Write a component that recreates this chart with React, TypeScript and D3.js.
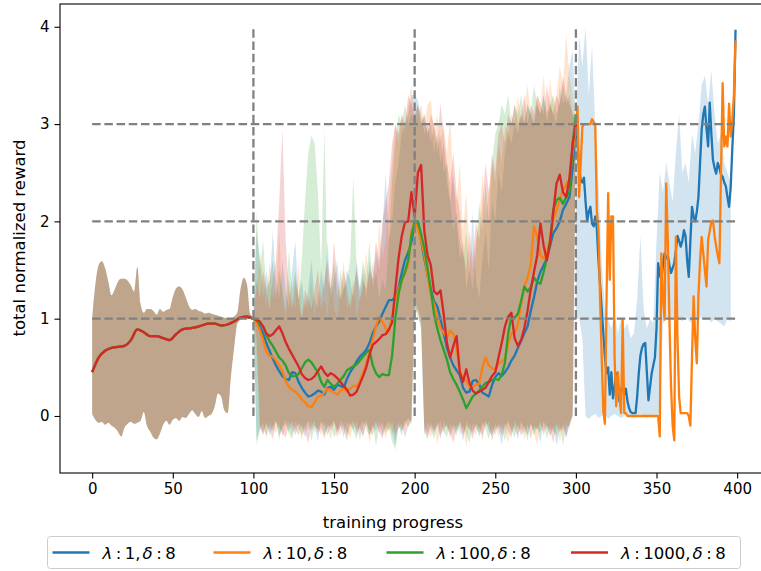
import React, { useEffect, useRef } from 'react';
import * as d3 from 'd3';

// x grids of the three training phases
const warmLineX = d3.range(0, 101, 4);
const warmBandX = d3.range(0, 101, 2);
const midX = d3.range(100, 301, 2);
const lateX = d3.range(300, 400, 1);
const lateBandX = d3.range(300, 397, 2);

const xTicks = [0, 50, 100, 150, 200, 250, 300, 350, 400];
const yTicks = [0, 1, 2, 3, 4];
const stageX = [100, 200, 300];
const levelY = [1, 2, 3];

const lambdas = ['1', '10', '100', '1000'];
const colors = ['#1f77b4', '#ff7f0e', '#2ca02c', '#d62728'];

// phase 0-100, identical for all runs
const warmMean = [0.45, 0.6, 0.67, 0.7, 0.71, 0.72, 0.78, 0.89, 0.86, 0.82, 0.82, 0.8, 0.78,
  0.84, 0.89, 0.9, 0.91, 0.93, 0.95, 0.95, 0.93, 0.94, 0.97, 1.01, 1.02, 1.0];
const warmHi = [1.0, 1.35, 1.55, 1.59, 1.52, 1.38, 1.24, 1.3, 1.38, 1.41,
  1.41, 1.39, 1.34, 1.28, 1.53, 1.15, 1.06, 1.1, 1.1, 1.08,
  1.04, 1.1, 1.07, 1.09, 1.1, 1.22, 1.31, 1.33, 1.3, 1.22,
  1.13, 1.09, 1.1, 1.08, 1.07, 1.05, 1.06, 1.05, 1.04, 1.03,
  1.02, 1.01, 1.0, 1.0, 1.02, 1.06, 1.3, 1.42, 1.35, 1.05, 1.01];
const warmLo = [0.02, -0.04, -0.07, -0.06, -0.09, -0.07, -0.1, -0.12, -0.16, -0.21,
  -0.12, -0.08, -0.06, -0.08, -0.07, -0.05, 0.04, -0.1, -0.16, -0.22,
  -0.24, -0.18, -0.09, -0.05, -0.09, -0.04, -0.02, -0.05, -0.01, -0.02,
  0.02, 0.06, 0.02, -0.01, 0.05, -0.02, 0.0, 0.02, 0.1, 0.23,
  0.2, 0.06, 0.03, 0.4, 0.7, 0.95, 0.99, 1.0, 1.0, 1.0, 1.0];

// phase 100-300, means
const blueMid = [1.0, 0.97, 0.92, 0.85, 0.75, 0.67, 0.59, 0.52, 0.46, 0.41,
  0.38, 0.37, 0.45, 0.44, 0.35, 0.29, 0.24, 0.2, 0.21, 0.23,
  0.26, 0.25, 0.22, 0.29, 0.3, 0.27, 0.32, 0.31, 0.29, 0.38,
  0.45, 0.5, 0.56, 0.61, 0.64, 0.68, 0.75, 0.85, 0.92, 0.97,
  1.05, 1.12, 1.19, 1.19, 1.22, 1.32, 1.47, 1.6, 1.68, 1.79,
  1.97, 2.0, 1.8, 1.62, 1.45, 1.3, 1.18, 1.13, 1.0, 0.85,
  0.7, 0.6, 0.52, 0.47, 0.42, 0.29, 0.24, 0.25, 0.36, 0.37,
  0.33, 0.24, 0.22, 0.2, 0.32, 0.4, 0.44, 0.41, 0.45, 0.5,
  0.57, 0.62, 0.7, 0.77, 0.85, 0.92, 1.08, 1.22, 1.38, 1.48,
  1.55, 1.62, 1.75, 1.88, 1.93, 2.0, 2.12, 2.18, 2.25, 2.55,
  2.95];
const orangeMid = [1.0, 0.95, 0.88, 0.78, 0.66, 0.62, 0.61, 0.57, 0.52, 0.46,
  0.36, 0.3, 0.27, 0.25, 0.22, 0.17, 0.14, 0.1, 0.09, 0.14,
  0.2, 0.21, 0.24, 0.28, 0.26, 0.24, 0.22, 0.26, 0.28, 0.25,
  0.28, 0.31, 0.3, 0.36, 0.44, 0.54, 0.66, 0.78, 0.92, 1.02,
  0.97, 0.9, 0.86, 1.02, 1.18, 1.3, 1.39, 1.47, 1.55, 1.9,
  2.0, 1.92, 1.8, 1.66, 1.45, 1.25, 1.15, 1.02, 0.9, 0.86,
  0.8, 0.88, 0.84, 0.7, 0.45, 0.41, 0.36, 0.3, 0.3, 0.32,
  0.33, 0.5, 0.6, 0.52, 0.49, 0.48, 0.54, 0.56, 0.58, 0.75,
  0.85, 0.85, 0.94, 1.15, 1.33, 1.42, 1.55, 1.95, 1.85, 1.65,
  1.62, 1.68, 1.82, 2.02, 2.12, 2.22, 2.32, 2.38, 2.43, 2.7,
  2.97];
const greenMid = [1.0, 0.98, 0.95, 0.92, 0.83, 0.77, 0.72, 0.66, 0.6, 0.57,
  0.52, 0.44, 0.41, 0.41, 0.43, 0.49, 0.55, 0.58, 0.55, 0.5,
  0.45, 0.35, 0.3, 0.37, 0.33, 0.3, 0.33, 0.37, 0.41, 0.47,
  0.49, 0.51, 0.53, 0.57, 0.61, 0.65, 0.68, 0.52, 0.44, 0.4,
  0.43, 0.42, 0.42, 0.62, 1.0, 1.25, 1.4, 1.48, 1.6, 1.85,
  2.0, 2.0, 1.87, 1.72, 1.52, 1.3, 1.05, 0.9, 0.78, 0.68,
  0.58, 0.45, 0.38, 0.32, 0.25, 0.17, 0.08, 0.14, 0.2, 0.23,
  0.26, 0.3, 0.34, 0.35, 0.37, 0.38, 0.37, 0.42, 0.55, 0.85,
  1.02, 1.01, 1.05, 1.18, 1.33, 1.28, 1.32, 1.42, 1.38, 1.36,
  1.48, 1.62, 1.8, 2.12, 2.22, 2.24, 2.18, 2.25, 2.3, 2.8,
  3.1];
const redMid = [1.0, 0.99, 0.97, 0.92, 0.85, 0.82, 0.84, 0.88, 0.92, 0.85,
  0.76, 0.69, 0.63, 0.57, 0.51, 0.43, 0.39, 0.37, 0.38, 0.41,
  0.46, 0.51, 0.45, 0.41, 0.44, 0.42, 0.39, 0.35, 0.31, 0.27,
  0.21, 0.22, 0.25, 0.33, 0.41, 0.5, 0.63, 0.73, 0.76, 0.79,
  0.83, 0.84, 0.89, 0.96, 1.3, 1.62, 1.85, 1.99, 2.0, 2.3,
  2.05, 2.5, 2.58, 1.9, 1.65, 1.55, 1.28, 1.25, 1.29, 1.05,
  0.75, 0.6, 0.72, 0.82, 0.45, 0.35, 0.48, 0.34, 0.26, 0.23,
  0.25, 0.27, 0.29, 0.35, 0.41, 0.45, 0.6, 0.75, 0.92, 1.02,
  1.06, 0.8, 0.72, 0.78, 0.9, 1.08, 1.3, 1.48, 1.65, 1.98,
  1.75, 1.6, 1.78, 2.1, 2.39, 2.48, 2.3, 2.25, 2.45, 2.8,
  3.0];

// phase 100-300, band tops
const blueMidHi = [1.0, 1.9, 1.6, 1.2, 1.5, 1.3, 1.9, 1.4, 1.2, 1.6,
  1.3, 1.1, 1.5, 1.8, 1.2, 1.4, 1.1, 1.3, 1.6, 1.2,
  1.1, 1.5, 1.3, 1.8, 1.2, 1.4, 1.6, 1.2, 1.3, 1.5,
  1.4, 1.2, 1.6, 1.3, 1.5, 1.2, 1.6, 1.4, 1.7, 1.5,
  1.9, 2.5, 1.8, 2.0, 2.4, 2.6, 2.9, 3.0, 3.1, 3.3,
  3.3, 3.25, 3.0, 3.1, 2.9, 3.0, 2.7, 2.9, 2.6, 2.8,
  2.4, 2.2, 2.5, 2.0, 1.6, 1.8, 1.3, 1.5, 2.1, 1.4,
  1.2, 1.6, 1.9, 1.5, 2.2, 2.0, 2.5, 2.3, 2.7, 2.9,
  2.8, 3.0, 2.9, 3.1, 3.0, 3.2, 3.1, 3.0, 3.2, 3.1,
  3.3, 3.0, 3.2, 3.1, 3.0, 3.4, 3.2, 3.3, 3.6, 3.76,
  3.0];
const orangeMidHi = [1.0, 1.3, 1.7, 1.4, 1.1, 1.6, 1.2, 1.3, 1.9, 1.2,
  1.0, 1.4, 1.2, 1.1, 1.6, 1.0, 1.2, 1.1, 1.4, 1.0,
  1.3, 1.1, 1.2, 1.0, 1.5, 1.1, 1.0, 1.3, 1.6, 1.1,
  1.2, 1.4, 1.0, 1.2, 1.3, 1.7, 1.3, 1.6, 1.4, 2.0,
  1.6, 1.8, 2.2, 2.6, 3.0, 2.8, 3.1, 2.9, 3.2, 3.4,
  3.0, 3.1, 3.2, 3.0, 3.2, 3.25, 2.9, 3.1, 2.8, 3.0,
  2.7, 3.07, 2.4, 2.2, 2.6, 1.9, 2.3, 1.7, 1.5, 1.8,
  2.0, 2.5, 2.0, 2.3, 2.6, 2.4, 2.8, 2.6, 3.0, 2.9,
  3.1, 3.0, 3.3, 3.0, 3.2, 3.4, 3.1, 3.0, 3.3, 3.2,
  3.5, 3.1, 3.46, 3.2, 3.3, 3.6, 3.4, 3.93, 3.5, 3.3,
  3.0];
const greenMidHi = [1.0, 2.1, 1.5, 1.8, 1.3, 1.4, 1.6, 1.2, 1.5, 1.3,
  1.1, 1.7, 1.3, 1.5, 1.2, 1.6, 2.2, 2.7, 2.88, 2.8,
  2.3, 1.5, 2.94, 1.4, 1.3, 1.6, 1.2, 1.5, 1.3, 1.4,
  1.6, 2.46, 1.5, 1.3, 1.6, 1.4, 1.8, 1.3, 1.5, 1.2,
  1.4, 1.3, 1.8, 2.4, 2.8, 3.1, 3.0, 3.2, 3.0, 3.1,
  3.05, 3.2, 3.1, 2.9, 3.0, 2.8, 3.0, 2.7, 2.9, 2.5,
  2.6, 2.2, 1.9, 2.1, 1.8, 1.6, 1.9, 1.5, 1.3, 1.7,
  2.2, 1.9, 2.4, 2.0, 2.6, 2.9, 3.0, 3.2, 3.1, 3.3,
  3.0, 3.2, 3.1, 3.3, 3.0, 3.2, 3.1, 3.4, 3.2, 3.1,
  3.3, 3.1, 3.2, 3.3, 3.1, 3.2, 3.4, 3.2, 3.3, 3.1,
  3.1];
const redMidHi = [1.0, 1.4, 1.2, 1.5, 1.3, 1.1, 1.4, 1.6, 2.2, 2.95,
  1.8, 1.3, 1.1, 1.4, 1.2, 1.0, 1.3, 1.2, 1.1, 1.3,
  1.5, 1.2, 1.4, 1.6, 1.3, 1.8, 1.4, 1.2, 1.5, 1.3,
  1.1, 1.3, 1.5, 1.2, 1.4, 1.3, 1.5, 1.4, 1.8, 1.6,
  2.0, 2.2, 2.4, 2.8, 3.0, 2.9, 3.1, 3.0, 3.3, 3.2,
  3.1, 3.2, 3.0, 3.1, 2.9, 3.1, 3.0, 2.8, 3.21, 2.9,
  2.6, 2.4, 2.7, 2.3, 2.1, 1.7, 1.5, 1.9, 1.6, 2.0,
  1.8, 2.2, 2.6, 2.3, 2.7, 2.5, 2.9, 3.0, 2.8, 3.1,
  3.0, 3.2, 3.0, 3.1, 3.3, 3.0, 3.2, 3.1, 3.3, 3.2,
  3.1, 3.4, 3.2, 3.1, 3.3, 3.2, 3.5, 3.3, 3.2, 3.1,
  3.0];

// phase 100-300, band bottoms
const blueMidLo = [1.0, -0.25, -0.12, -0.18, -0.06, -0.2, -0.1, -0.05, -0.24, -0.1,
  -0.04, -0.16, -0.1, -0.2, -0.06, -0.12, -0.22, -0.05, -0.15, -0.1,
  -0.26, -0.05, -0.1, -0.2, -0.1, -0.04, -0.16, -0.1, -0.22, -0.06,
  -0.1, -0.15, -0.05, -0.25, -0.1, -0.04, -0.2, -0.1, -0.16, -0.05,
  -0.2, -0.1, -0.05, -0.15, -0.3, -0.1, -0.2, -0.06, -0.02, -0.05,
  1.1, 1.05, 0.9, -0.12, -0.2, -0.06, -0.15, -0.1, -0.24, -0.05,
  -0.12, -0.2, -0.08, -0.16, -0.1, -0.26, -0.05, -0.12, -0.18, -0.08,
  -0.22, -0.1, -0.05, -0.16, -0.2, -0.08, -0.14, -0.3, -0.1, -0.05,
  -0.18, -0.1, -0.24, -0.06, -0.12, -0.2, -0.08, -0.15, -0.1, -0.28,
  -0.05, -0.12, -0.2, -0.1, -0.3, -0.15, -0.08, -0.22, -0.1, 0.0,
  2.9];
const orangeMidLo = [1.0, 0.6, -0.08, -0.14, -0.2, -0.05, -0.12, -0.18, -0.06, -0.22,
  -0.1, -0.05, -0.2, -0.12, -0.08, -0.25, -0.1, -0.15, -0.04, -0.18,
  -0.1, -0.2, -0.06, -0.14, -0.24, -0.08, -0.12, -0.2, -0.05, -0.16,
  -0.22, -0.08, -0.14, -0.1, -0.2, -0.06, -0.28, -0.12, -0.05, -0.18,
  -0.1, -0.24, -0.08, -0.2, -0.12, -0.05, -0.16, -0.1, -0.04, -0.08,
  1.15, 1.0, 0.95, -0.08, -0.14, -0.22, -0.06, -0.3, -0.12, -0.18,
  -0.06, -0.24, -0.12, -0.08, -0.2, -0.1, -0.32, -0.06, -0.14, -0.2,
  -0.1, -0.26, -0.06, -0.12, -0.18, -0.1, -0.22, -0.05, -0.16, -0.28,
  -0.08, -0.14, -0.2, -0.06, -0.24, -0.12, -0.1, -0.18, -0.3, -0.08,
  -0.16, -0.06, -0.22, -0.12, -0.08, -0.26, -0.14, -0.06, -0.12, 0.0,
  2.95];
const greenMidLo = [1.0, -0.3, -0.15, -0.06, -0.22, -0.1, -0.16, -0.05, -0.2, -0.12,
  -0.08, -0.18, -0.24, -0.06, -0.12, -0.2, -0.1, -0.05, -0.26, -0.1,
  -0.14, -0.06, -0.2, -0.12, -0.08, -0.22, -0.15, -0.05, -0.1, -0.2,
  -0.06, -0.16, -0.24, -0.1, -0.05, -0.14, -0.2, -0.08, -0.3, -0.12,
  -0.06, -0.18, -0.12, -0.26, -0.35, -0.1, -0.15, -0.05, -0.12, -0.06,
  1.05, 1.1, 0.9, -0.2, -0.06, -0.14, -0.24, -0.1, -0.05, -0.16,
  -0.22, -0.08, -0.14, -0.2, -0.06, -0.12, -0.18, -0.28, -0.08, -0.12,
  -0.18, -0.06, -0.14, -0.24, -0.1, -0.2, -0.08, -0.12, -0.26, -0.06,
  -0.14, -0.22, -0.08, -0.16, -0.1, -0.26, -0.06, -0.2, -0.12, -0.18,
  -0.06, -0.24, -0.1, -0.16, -0.2, -0.08, -0.3, -0.12, -0.1, 0.05,
  3.05];
const redMidLo = [1.0, 0.8, -0.1, -0.2, -0.08, -0.15, -0.24, -0.06, -0.12, -0.18,
  -0.22, -0.1, -0.06, -0.14, -0.2, -0.08, -0.16, -0.28, -0.1, -0.05,
  -0.18, -0.12, -0.24, -0.08, -0.15, -0.06, -0.22, -0.1, -0.14, -0.26,
  -0.1, -0.05, -0.18, -0.12, -0.22, -0.08, -0.14, -0.2, -0.06, -0.16,
  -0.24, -0.1, -0.16, -0.06, -0.2, -0.12, -0.08, -0.22, -0.1, -0.04,
  1.2, 1.1, 1.0, -0.16, -0.24, -0.1, -0.18, -0.06, -0.2, -0.12,
  -0.1, -0.16, -0.28, -0.12, -0.06, -0.2, -0.1, -0.14, -0.24, -0.08,
  -0.12, -0.2, -0.1, -0.06, -0.26, -0.14, -0.1, -0.2, -0.08, -0.16,
  -0.22, -0.06, -0.12, -0.2, -0.16, -0.08, -0.24, -0.1, -0.14, -0.06,
  -0.2, -0.1, -0.14, -0.28, -0.08, -0.16, -0.12, -0.22, -0.06, 0.0,
  3.0];

// phase 300-400, only two runs continue
const blueLate = [2.95, 2.8, 2.55, 2.42, 2.4, 2.45, 2.2, 2.0, 2.1, 2.15,
  1.98, 1.95, 2.05, 1.92, 1.6, 1.35, 1.1, 0.85, 0.6, 0.44,
  0.5, 0.22, 0.45, 0.18, 0.3, 0.44, 0.3, 0.15, 0.28, 0.3,
  0.22, 0.28, 0.15, 0.08, 0.04, 0.03, 0.03, 0.03, 0.2, 0.44,
  0.62, 0.7, 0.74, 0.75, 0.45, 0.16, 0.3, 0.44, 0.52, 0.6,
  0.9, 1.57, 1.45, 1.4, 1.55, 1.67, 1.62, 1.65, 1.55, 1.47,
  1.52, 1.57, 1.7, 1.85, 1.8, 1.74, 1.8, 1.91, 1.85, 1.6,
  1.43, 1.8, 2.15, 2.05, 2.0, 2.1, 2.25, 2.6, 2.94, 3.1,
  3.18, 2.95, 2.77, 3.22, 2.9, 2.63, 2.55, 2.49, 2.6, 2.55,
  2.48, 2.46, 2.4, 2.36, 2.25, 2.15, 2.35, 2.75, 3.1, 3.97];
const orangeLate = [2.97, 3.18, 2.25, 2.6, 2.97, 3.0, 3.0, 3.0, 3.0, 3.0,
  3.05, 3.02, 3.0, 2.1, 1.9, 1.2, 0.6, 0.05, -0.08, 1.2,
  2.29, 1.4, 2.05, 2.05, 0.6, 0.1, 0.45, 0.2, 0.03, 0.99,
  0.03, 0.03, 0.0, 0.0, 0.0, 0.0, 0.0, 0.0, 0.0, 0.0,
  0.0, 0.0, 0.0, 0.0, 0.0, 0.0, 0.0, 0.0, 0.0, 0.0,
  0.0, 0.0, -0.21, 1.67, 1.2, 0.99, 2.39, 1.8, 0.99, 0.3,
  -0.1, -0.25, 1.84, 0.8, 0.2, 0.03, 0.03, 0.03, 0.03, 0.03,
  0.0, -0.1, 0.6, 1.23, 0.8, 0.54, 1.23, 1.6, 1.84, 1.67,
  1.5, 1.33, 1.81, 1.9, 2.0, 2.01, 1.85, 1.74, 1.65, 1.57,
  2.5, 3.42, 2.77, 2.87, 2.77, 3.21, 2.87, 3.04, 3.3, 3.86];
const blueLateHi = [3.0, 3.9, 3.6, 4.0, 3.3, 3.8, 3.0, 2.4, 1.6, 1.1,
  1.0, 0.9, 1.05, 0.85, 1.0, 0.9, 0.95, 0.8, 0.85, 1.2,
  1.85, 1.1, 0.9, 1.0, 0.95, 1.8, 2.5, 2.3, 2.6, 2.4,
  2.2, 2.7, 3.1, 2.5, 2.6, 2.4, 2.9, 2.7, 3.0, 3.4,
  3.5, 3.2, 3.55, 3.1, 2.8, 2.9, 2.6, 2.5, 2.4];
const blueLateLo = [1.0, 1.0, 0.8, 0.0, -0.03, 0.0, 0.02, -0.02, 0.0, 0.02,
  -0.03, 0.0, 0.02, 0.0, -0.02, 0.0, 0.02, 0.0, -0.02, 0.0,
  0.02, 0.0, -0.02, 0.0, 0.02, 0.0, 0.05, 0.95, 1.0, 0.98,
  1.02, 0.95, 1.0, 0.97, 1.03, 0.98, 0.95, 1.0, 0.97, 1.02,
  0.98, 1.0, 0.96, 1.0, 0.97, 0.95, 0.92, 1.0, 0.97];

const runs = [
  { mid: blueMid, hi: blueMidHi, lo: blueMidLo, late: blueLate },
  { mid: orangeMid, hi: orangeMidHi, lo: orangeMidLo, late: orangeLate },
  { mid: greenMid, hi: greenMidHi, lo: greenMidLo, late: null },
  { mid: redMid, hi: redMidHi, lo: redMidLo, late: null },
];

const W = 761;
const H = 571;
const FONT = 'DejaVu Sans';

const App = () => {
  const ref = useRef<SVGSVGElement>(null);

  useEffect(() => {
    const svg = d3.select(ref.current);
    svg.selectAll('*').remove();

    const left = 60, top = 4, bottom = 473, right = 767.7;
    const x = d3.scaleLinear().domain([-19.95, 418.95]).range([left, right]);
    const y = d3.scaleLinear().domain([-0.586, 4.234]).range([bottom, top]);

    svg.append('defs').append('clipPath').attr('id', 'plot')
      .append('rect').attr('x', left).attr('y', top)
      .attr('width', right - left).attr('height', bottom - top);

    const plot = svg.append('g').attr('clip-path', 'url(#plot)');

    const area = d3.area<number[]>()
      .x((d) => x(d[0])).y0((d) => y(d[1])).y1((d) => y(d[2]));
    const smoothArea = d3.area<number[]>()
      .x((d) => x(d[0])).y0((d) => y(d[1])).y1((d) => y(d[2]))
      .curve(d3.curveMonotoneX);
    const line = d3.line<number[]>()
      .x((d) => x(d[0])).y((d) => y(d[1]));
    const smoothLine = d3.line<number[]>()
      .x((d) => x(d[0])).y((d) => y(d[1]))
      .curve(d3.curveMonotoneX);

    const band = (xs: number[], lo: number[], hi: number[]) => xs.map((v, i) => [v, lo[i], hi[i]]);
    const pts = (xs: number[], ys: number[]) => xs.map((v, i) => [v, ys[i]]);

    // shaded spread
    runs.forEach((r, i) => {
      plot.append('path').attr('d', smoothArea(band(warmBandX, warmLo, warmHi)))
        .attr('fill', colors[i]).attr('fill-opacity', 0.2);
    });
    runs.forEach((r, i) => {
      plot.append('path').attr('d', area(band(midX, r.lo, r.hi)))
        .attr('fill', colors[i]).attr('fill-opacity', 0.2);
    });
    plot.append('path').attr('d', area(band(lateBandX, blueLateLo, blueLateHi)))
      .attr('fill', colors[0]).attr('fill-opacity', 0.2);

    // mean curves
    runs.forEach((r, i) => {
      const p = [
        ...pts(midX, r.mid),
        ...(r.late ? pts(lateX, r.late).slice(1) : []),
      ];
      const g = plot.append('g').attr('fill', 'none').attr('stroke', colors[i])
        .attr('stroke-width', 2.3).attr('stroke-linejoin', 'round');
      g.append('path').attr('d', smoothLine(pts(warmLineX, warmMean)));
      g.append('path').attr('d', line(p));
    });

    // stage boundaries and reference levels
    stageX.forEach((s) => {
      plot.append('line')
        .attr('x1', x(s)).attr('x2', x(s)).attr('y1', y(0)).attr('y2', y(4))
        .attr('stroke', '#808080').attr('stroke-width', 2.3).attr('stroke-dasharray', '8.5,3.7');
    });
    levelY.forEach((l) => {
      plot.append('line')
        .attr('x1', x(0)).attr('x2', x(399)).attr('y1', y(l)).attr('y2', y(l))
        .attr('stroke', '#808080').attr('stroke-width', 2.3).attr('stroke-dasharray', '8.5,3.7');
    });

    // frame
    svg.append('rect').attr('x', left).attr('y', top)
      .attr('width', right - left).attr('height', bottom - top)
      .attr('fill', 'none').attr('stroke', '#000').attr('stroke-width', 1.1);

    const xAxis = svg.append('g').attr('transform', `translate(0,${bottom})`)
      .call(d3.axisBottom(x).tickValues(xTicks).tickFormat(d3.format('d')).tickSize(5.5).tickPadding(5));
    const yAxis = svg.append('g').attr('transform', `translate(${left},0)`)
      .call(d3.axisLeft(y).tickValues(yTicks).tickFormat(d3.format('d')).tickSize(5.5).tickPadding(5));
    [xAxis, yAxis].forEach((a) => {
      a.select('.domain').remove();
      a.attr('font-family', FONT).attr('font-size', 15);
      a.selectAll('line').attr('stroke', '#000').attr('stroke-width', 1.1);
      a.selectAll('text').attr('fill', '#000');
    });

    svg.append('text').attr('x', 393).attr('y', 528).attr('text-anchor', 'middle')
      .attr('font-family', FONT).attr('font-size', 16.5).text('training progress');
    svg.append('text').attr('transform', 'translate(25,238) rotate(-90)').attr('text-anchor', 'middle')
      .attr('font-family', FONT).attr('font-size', 16.5).text('total normalized reward');

    // legend
    const lg = svg.append('g').attr('font-family', FONT).attr('font-size', 16.5);
    lg.append('rect').attr('x', 47.5).attr('y', 536.5).attr('width', 693).attr('height', 32)
      .attr('rx', 3).attr('fill', '#fff').attr('fill-opacity', 0.8)
      .attr('stroke', '#cccccc').attr('stroke-width', 1);
    const lineStart = [52.5, 213.5, 386.5, 571];
    lambdas.forEach((lam, i) => {
      lg.append('line').attr('x1', lineStart[i]).attr('x2', lineStart[i] + 37)
        .attr('y1', 552.5).attr('y2', 552.5)
        .attr('stroke', colors[i]).attr('stroke-width', 2.3);
      const t = lg.append('text').attr('x', lineStart[i] + 50).attr('y', 558.5);
      t.append('tspan').attr('font-style', 'italic').text('λ');
      t.append('tspan').attr('dx', 3.5).text(':');
      t.append('tspan').attr('dx', 3.5).text(`${lam},`);
      t.append('tspan').attr('dx', 2).attr('font-style', 'italic').text('δ');
      t.append('tspan').attr('dx', 3.5).text(':');
      t.append('tspan').attr('dx', 3.5).text('8');
    });
  }, []);

  return (
    <svg
      ref={ref}
      width={W}
      height={H}
      style={{ position: 'absolute', left: 0, top: 0, background: '#fff' }}
    />
  );
};

export default App;
